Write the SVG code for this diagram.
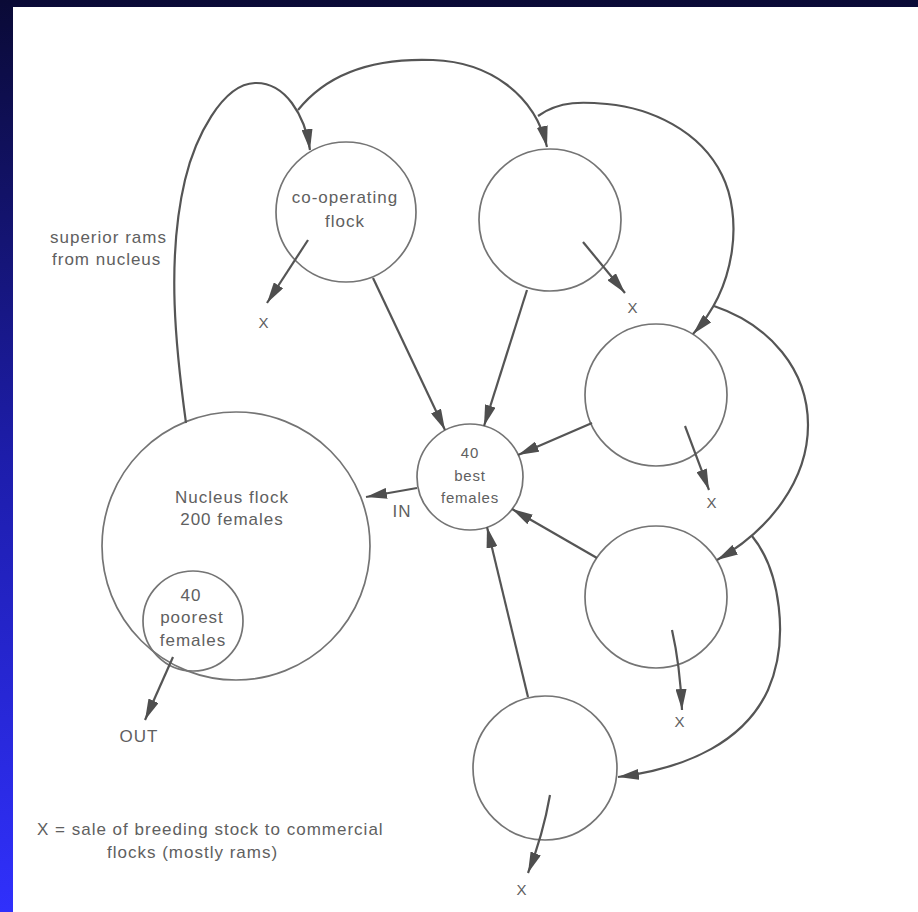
<svg xmlns="http://www.w3.org/2000/svg" width="918" height="912" viewBox="0 0 918 912">
  <defs>
    <linearGradient id="frame" x1="0" y1="0" x2="0" y2="1">
      <stop offset="0" stop-color="#0a0a36"/>
      <stop offset="0.5" stop-color="#1d1daa"/>
      <stop offset="1" stop-color="#3030fc"/>
    </linearGradient>
    <marker id="head" viewBox="0 0 21 11" refX="21" refY="5.5" markerWidth="21" markerHeight="11" markerUnits="userSpaceOnUse" orient="auto">
      <path d="M0,0 L21,5.5 L0,11 z" fill="#4e4e4e"/>
    </marker>
    <style>
      .node { fill: none; stroke: #747474; stroke-width: 1.7; }
      .link { fill: none; stroke: #555; stroke-width: 2.2; marker-end: url(#head); }
      .t { font-family: "Liberation Sans", Arial, sans-serif; font-size: 17px; letter-spacing: 1px; fill: #606060; text-anchor: middle; }
      .s { font-size: 15px; letter-spacing: 0.8px; }
      .l { text-anchor: start; }
    </style>
  </defs>

  <!-- frame and page -->
  <rect x="0" y="0" width="918" height="912" fill="url(#frame)"/>
  <rect x="13" y="7" width="905" height="905" fill="#ffffff"/>

  <!-- nodes -->
  <g id="nucleus">
    <circle class="node" cx="236" cy="546" r="134"/>
    <text class="t" x="232" y="503">Nucleus flock</text>
    <text class="t" x="232" y="525">200 females</text>
  </g>
  <g id="poorest">
    <circle class="node" cx="193" cy="621" r="50"/>
    <text class="t" x="191" y="601">40</text>
    <text class="t" x="192" y="623">poorest</text>
    <text class="t" x="193" y="646">females</text>
  </g>
  <g id="best">
    <circle class="node" cx="470" cy="477" r="53"/>
    <text class="t s" x="470" y="458">40</text>
    <text class="t s" x="470" y="481">best</text>
    <text class="t s" x="470" y="503">females</text>
  </g>
  <g id="coop">
    <circle class="node" cx="346" cy="212" r="70"/>
    <text class="t" x="345" y="203">co-operating</text>
    <text class="t" x="345" y="227">flock</text>
  </g>
  <g id="flock2">
    <circle class="node" cx="550" cy="220" r="71"/>
  </g>
  <g id="flock3">
    <circle class="node" cx="656" cy="395" r="71"/>
  </g>
  <g id="flock4">
    <circle class="node" cx="656" cy="597" r="71"/>
  </g>
  <g id="flock5">
    <circle class="node" cx="545" cy="768" r="72"/>
  </g>

  <!-- connectors -->
  <g id="connectors">
    <!-- rams passed along the chain of flocks -->
    <path class="link" d="M186,423 C176,350 166,260 185,180 C195,138 222,84 255,83 C285,82 305,115 310,150"/>
    <path class="link" d="M298,110 C330,70 380,58 433,60 C490,62 535,95 547,147"/>
    <path class="link" d="M538,116 C560,100 585,102 607,104 C650,108 700,130 722,175 C742,215 738,285 693,334"/>
    <path class="link" d="M714,306 C770,325 808,370 808,425 C808,480 770,530 717,560"/>
    <path class="link" d="M752,536 C780,570 790,640 768,690 C745,740 690,768 618,777"/>

    <!-- best females into the nucleus -->
    <path class="link" d="M373,278 L445,430"/>
    <path class="link" d="M527,290 L484,426"/>
    <path class="link" d="M592,423 L518,455"/>
    <path class="link" d="M597,558 L512,509"/>
    <path class="link" d="M528,697 L487,527"/>
    <path class="link" d="M417,488 L366,497"/>

    <!-- sales and culls -->
    <path class="link" d="M308,240 L267,303"/>
    <path class="link" d="M583,242 L625,293"/>
    <path class="link" d="M685,426 L709,490"/>
    <path class="link" d="M672,630 Q680,665 682,710"/>
    <path class="link" d="M550,795 Q543,835 528,873"/>
    <path class="link" d="M173,657 L145,720"/>
  </g>

  <!-- labels -->
  <g id="labels">
    <text class="t" x="402" y="517">IN</text>
    <text class="t" x="139" y="742">OUT</text>
    <text class="t s" x="264" y="328">X</text>
    <text class="t s" x="633" y="313">X</text>
    <text class="t s" x="712" y="508">X</text>
    <text class="t s" x="680" y="727">X</text>
    <text class="t s" x="522" y="895">X</text>
    <text class="t l" x="50" y="243">superior rams</text>
    <text class="t l" x="52" y="265">from nucleus</text>
    <text class="t l" x="37" y="835">X = sale of breeding stock to commercial</text>
    <text class="t l" x="107" y="858">flocks (mostly rams)</text>
  </g>
</svg>
